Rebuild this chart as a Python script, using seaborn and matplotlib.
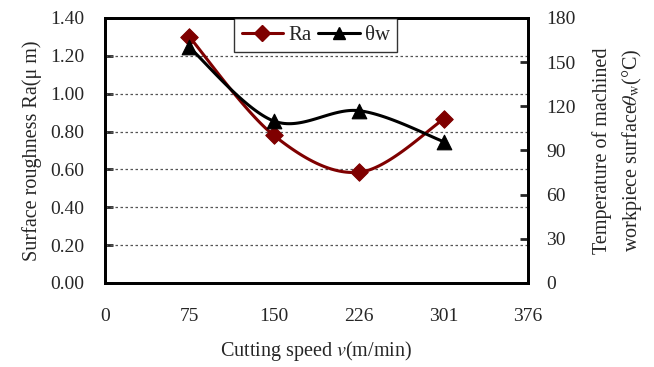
import numpy as np
import pandas as pd
import matplotlib
matplotlib.use("Agg")
import matplotlib.pyplot as plt
import seaborn as sns
from matplotlib.lines import Line2D

# data
speed = [75, 150, 226, 301]
ra = [1.30, 0.78, 0.585, 0.865]
theta_w = [160, 110, 117, 96]
x_ticks = [0, 75, 150, 226, 301, 376]
ra_ticks = [0.0, 0.2, 0.4, 0.6, 0.8, 1.0, 1.2, 1.4]
temp_ticks = [0, 30, 60, 90, 120, 150, 180]


def smooth(xs, ys, n=40):
    # Excel style smoothed line (Catmull-Rom bezier between the points)
    xs = np.asarray(xs, float)
    ys = np.asarray(ys, float)
    px, py = [], []
    for i in range(len(xs) - 1):
        p0 = (xs[max(i - 1, 0)], ys[max(i - 1, 0)])
        p1 = (xs[i], ys[i])
        p2 = (xs[i + 1], ys[i + 1])
        p3 = (xs[min(i + 2, len(xs) - 1)], ys[min(i + 2, len(xs) - 1)])
        c1 = (p1[0] + (p2[0] - p0[0]) / 6, p1[1] + (p2[1] - p0[1]) / 6)
        c2 = (p2[0] - (p3[0] - p1[0]) / 6, p2[1] - (p3[1] - p1[1]) / 6)
        t = np.linspace(0, 1, n)
        b0, b1, b2, b3 = (1 - t) ** 3, 3 * t * (1 - t) ** 2, 3 * t ** 2 * (1 - t), t ** 3
        px.extend(b0 * p1[0] + b1 * c1[0] + b2 * c2[0] + b3 * p2[0])
        py.extend(b0 * p1[1] + b1 * c1[1] + b2 * c2[1] + b3 * p2[1])
    return pd.DataFrame({"x": px, "y": py})


sns.set_style("white")
plt.rcParams["font.family"] = ["Liberation Serif", "DejaVu Serif"]
plt.rcParams["mathtext.fontset"] = "stix"

red = "#7f0000"
fig = plt.figure(figsize=(6.54, 3.67), dpi=100)
ax1 = fig.add_axes([0.1606, 0.229, 0.6468, 0.722])
ax2 = ax1.twinx()

ra_curve = smooth(speed, ra)
tw_curve = smooth(speed, theta_w)
sns.lineplot(data=ra_curve, x="x", y="y", sort=False, color=red, lw=2.2, ax=ax1, zorder=3)
sns.scatterplot(x=speed, y=ra, marker="D", s=80, color=red, edgecolor=red, ax=ax1, zorder=4)
sns.lineplot(data=tw_curve, x="x", y="y", sort=False, color="black", lw=2.2, ax=ax2, zorder=3)
sns.scatterplot(x=speed, y=theta_w, marker="^", s=110, color="black", edgecolor="black", ax=ax2, zorder=4)

ax1.set_xlim(0, 376)
ax1.set_ylim(0, 1.4)
ax2.set_ylim(0, 180)
ax1.set_xticks(x_ticks)
ax1.set_xticklabels([str(v) for v in x_ticks])
ax1.set_yticks(ra_ticks)
ax1.set_yticklabels([f"{v:.2f}" for v in ra_ticks])
ax2.set_yticks(temp_ticks)

for y in ra_ticks[1:]:
    ax1.axhline(y, color="#555555", lw=0.9, ls=(0, (2, 2)), zorder=1)

for ax in (ax1, ax2):
    for s in ax.spines.values():
        s.set_linewidth(2)
        s.set_color("black")
ax1.tick_params(axis="both", direction="in", length=6, width=2, labelsize=14)
ax1.tick_params(axis="y", pad=15)
ax1.tick_params(axis="x", pad=18)
ax2.tick_params(axis="y", direction="in", length=6, width=2, labelsize=14, pad=13)

ax1.set_xlabel(r"Cutting speed $\mathit{v}$(m/min)", fontsize=14.5, labelpad=10)
ax1.set_ylabel("Surface roughness Ra(\u03bc m)", fontsize=14.5, labelpad=6)
ax2.set_ylabel("Temperature of machined\nworkpiece surface$\\theta_{\\rm w}$(°C)",
               fontsize=14.5, labelpad=12, rotation=90, linespacing=1.45)

handles = [Line2D([], [], color=red, lw=2.2, marker="D", ms=8),
           Line2D([], [], color="black", lw=2.2, marker="^", ms=9)]
leg = ax2.legend(handles, ["Ra", "\u03b8w"], loc="upper center", bbox_to_anchor=(0.498, 1.0),
                 ncol=2, fontsize=15, frameon=True, fancybox=False, handlelength=2.0,
                 columnspacing=0.3, handletextpad=0.25, borderpad=0.35, borderaxespad=0.0)
leg.get_frame().set_edgecolor("black")
leg.get_frame().set_linewidth(1)

fig.savefig("out.png", dpi=100)
